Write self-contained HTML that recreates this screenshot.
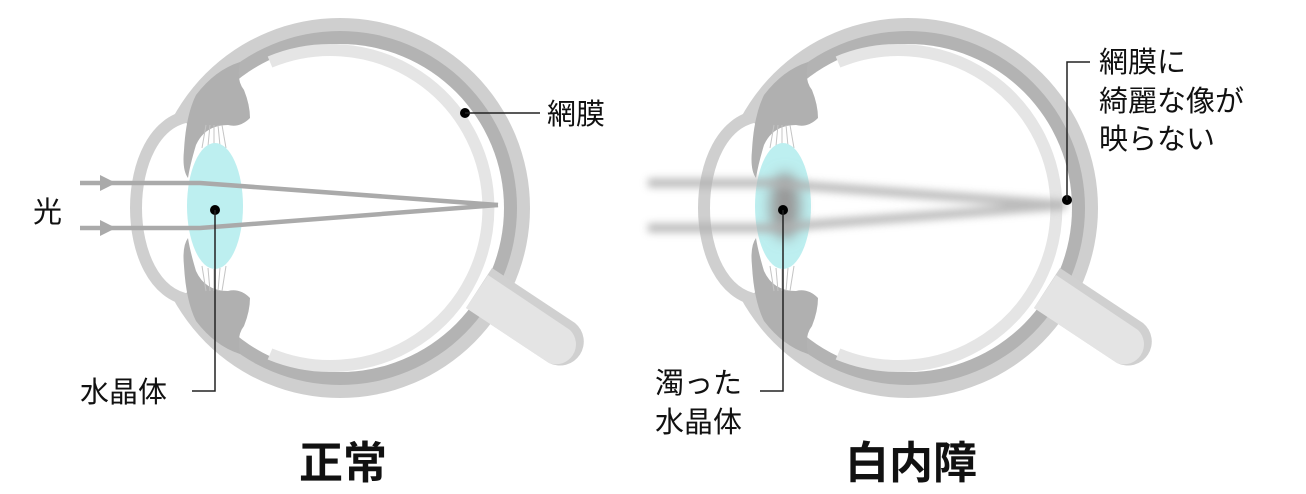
<!DOCTYPE html>
<html><head><meta charset="utf-8"><style>
html,body{margin:0;padding:0;background:#fff;}
svg{display:block;}
text{font-family:"Liberation Sans","Noto Sans CJK JP",sans-serif;fill:#111;}
</style></head><body>
<svg width="1306" height="494" viewBox="0 0 1306 494" xmlns="http://www.w3.org/2000/svg">
<defs>
<filter id="blur" x="-20%" y="-50%" width="140%" height="200%"><feGaussianBlur stdDeviation="4"/></filter>
<filter id="blur2" x="-50%" y="-50%" width="200%" height="200%"><feGaussianBlur stdDeviation="7"/></filter>
<g id="eye">
  <!-- globe -->
  <circle cx="340" cy="208" r="190" fill="#cfcfcf"/>
  <circle cx="340" cy="208" r="177" fill="#b3b3b3"/>
  <circle cx="340" cy="208" r="164" fill="#fff"/>
  <path d="M 270 62 A 158 158 0 1 1 270 354" fill="none" stroke="#e5e5e5" stroke-width="12"/>
  <!-- optic nerve -->
  <path d="M 492 268 L 575 323 A 24 24 0 0 1 549 363 L 466 308 Z" fill="#d0d0d0"/>
  <path d="M 488 275 L 570 330 A 20 20 0 0 1 549 363 L 466 308 Z" fill="#e4e4e4"/>
  <!-- anterior chamber white -->
  <ellipse cx="176" cy="208" rx="32" ry="90" fill="#fff"/>
  <path d="M145 150 L192 122 L192 294 L145 266 Z" fill="#fff"/>
  <!-- cornea -->
  <path d="M 190 116 C 118 126, 118 290, 190 300" fill="none" stroke="#cfcfcf" stroke-width="12"/>
  <!-- iris blobs -->
  <path d="M 196 95 Q 215 70 240 62 Q 236 80 244 90 Q 250 105 250 118 Q 240 128 228 125 Q 205 125 196 145 Q 190 165 188 178 Q 182 170 184 150 Q 186 115 196 95 Z" fill="#b0b0b0"/>
  <path d="M 196 321 Q 215 346 240 354 Q 236 336 244 326 Q 250 311 250 298 Q 240 288 228 291 Q 205 291 196 271 Q 190 251 188 238 Q 182 246 184 266 Q 186 301 196 321 Z" fill="#b0b0b0"/>
  <!-- zonules -->
  <g stroke="#c4c4c4" stroke-width="1">
    <line x1="202" y1="148" x2="206" y2="125"/><line x1="208" y1="146" x2="210" y2="125"/><line x1="214" y1="145" x2="214" y2="125"/><line x1="220" y1="146" x2="218" y2="125"/><line x1="226" y1="148" x2="222" y2="125"/>
    <line x1="202" y1="266" x2="206" y2="291"/><line x1="208" y1="268" x2="210" y2="291"/><line x1="214" y1="269" x2="214" y2="291"/><line x1="220" y1="268" x2="218" y2="291"/><line x1="226" y1="266" x2="222" y2="291"/>
  </g>
  <!-- lens -->
  <ellipse cx="215" cy="206" rx="28" ry="63" fill="#bdeff0"/>
</g>
</defs>

<!-- left eye -->
<use href="#eye"/>
<g stroke="#aaaaaa" stroke-width="4.5" fill="none" stroke-linejoin="round">
  <polyline points="80,183 200,183 498,205"/>
  <polyline points="80,228 200,228 498,205"/>
</g>
<polygon points="100,175 116,183 100,191" fill="#aaaaaa"/>
<polygon points="100,220 116,228 100,236" fill="#aaaaaa"/>
<circle cx="215" cy="210" r="5" fill="#000"/>
<polyline points="215,210 215,391 192,391" fill="none" stroke="#222" stroke-width="1.5"/>
<circle cx="465" cy="113" r="5" fill="#000"/>
<line x1="465" y1="113" x2="540" y2="113" stroke="#222" stroke-width="1.5"/>
<text x="547" y="124" font-size="29">網膜</text>
<text x="33" y="222" font-size="29">光</text>
<text x="80" y="402" font-size="29">水晶体</text>
<text x="343" y="478" font-size="44" font-weight="bold" text-anchor="middle">正常</text>

<!-- right eye -->
<g transform="translate(568,0)">
  <use href="#eye"/>
  <ellipse cx="217" cy="206" rx="15" ry="33" fill="#999" filter="url(#blur2)"/>
  <g stroke="#b0b0b0" stroke-width="9" fill="none" filter="url(#blur)" opacity="0.85">
    <polyline points="80,183 200,183 498,205"/>
    <polyline points="80,228 200,228 498,205"/>
  </g>
</g>
<circle cx="783" cy="210" r="5" fill="#000"/>
<polyline points="783,210 783,391 760,391" fill="none" stroke="#222" stroke-width="1.5"/>
<circle cx="1067" cy="200" r="5" fill="#000"/>
<polyline points="1067,200 1067,62 1090,62" fill="none" stroke="#222" stroke-width="1.5"/>
<text x="1099" y="72" font-size="29">網膜に</text>
<text x="1099" y="111" font-size="29">綺麗な像が</text>
<text x="1099" y="149" font-size="29">映らない</text>
<text x="655" y="393" font-size="29">濁った</text>
<text x="655" y="432" font-size="29">水晶体</text>
<text x="911" y="478" font-size="44" font-weight="bold" text-anchor="middle">白内障</text>
</svg>
</body></html>
